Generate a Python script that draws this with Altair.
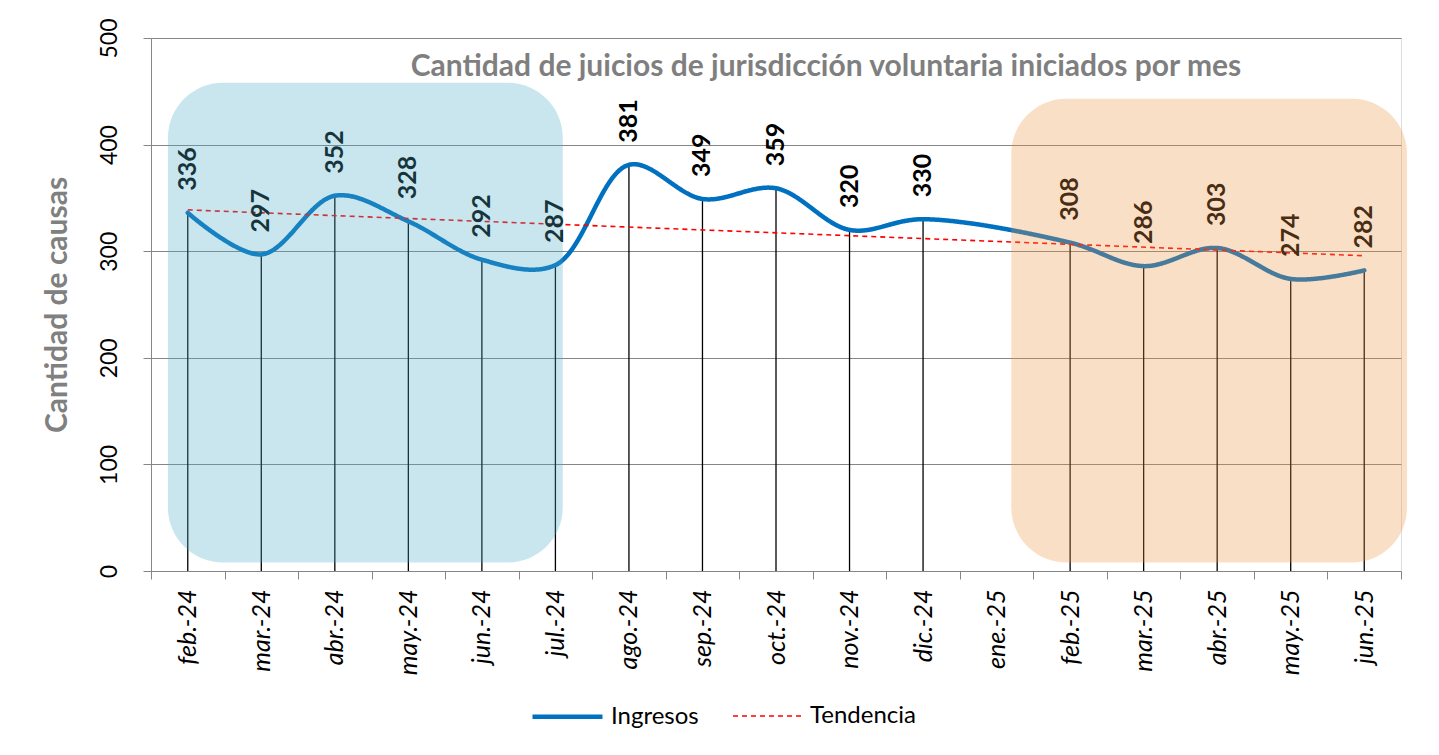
import altair as alt
import pandas as pd

meses = ["feb.-24", "mar.-24", "abr.-24", "may.-24", "jun.-24", "jul.-24",
         "ago.-24", "sep.-24", "oct.-24", "nov.-24", "dic.-24", "ene.-25",
         "feb.-25", "mar.-25", "abr.-25", "may.-25", "jun.-25"]
ingresos = [336, 297, 352, 328, 292, 287, 381, 349, 359, 320, 330, None,
            308, 286, 303, 274, 282]
series = ["Ingresos", "Tendencia"]

zona_azul = ["feb.-24", "jul.-24"]
zona_naranja = ["ene.-25", "jun.-25"]

FONT = "Lato"

df = pd.DataFrame({"mes": meses, "valor": ingresos})
df["serie"] = "Ingresos"

xscale = alt.Scale(type="band", domain=meses, paddingInner=0, paddingOuter=0)
yscale = alt.Scale(domain=[0, 500], nice=False)

xaxis = alt.Axis(title=None, labelAngle=270, labelAlign="right", labelBaseline="middle",
                 labelFontSize=25, labelFontStyle="italic", labelColor="#000000",
                 labelPadding=10, tickBand="extent", tickSize=8, tickColor="#868686",
                 domainColor="#868686", grid=False, labelFont=FONT)
yaxis = alt.Axis(title="Cantidad de causas", values=[0, 100, 200, 300, 400, 500],
                 labelAngle=270, labelAlign="center", labelBaseline="bottom",
                 labelFontSize=23, labelColor="#000000", labelPadding=22,
                 tickSize=8, tickColor="#868686", domainColor="#868686",
                 grid=True, gridColor="#868686", gridWidth=1,
                 titleFontSize=30, titleFontWeight="bold", titleColor="#808080",
                 titlePadding=26, labelFont=FONT, titleFont=FONT)


def X(f):
    return alt.X(f, type="nominal", scale=xscale, axis=xaxis)


def Y(f):
    return alt.Y(f, type="quantitative", scale=yscale, axis=yaxis)


leg = alt.Legend(title=None, orient="none", legendX=379, legendY=641, direction="horizontal",
                 symbolType="stroke", symbolSize=4900, labelFontSize=24, labelFont=FONT,
                 labelColor="#000000", labelOffset=6, columnPadding=30)
color = alt.Color("serie:N", scale=alt.Scale(domain=series, range=["#0070C0", "#FF0000"]), legend=leg)
dash = alt.StrokeDash("serie:N", scale=alt.Scale(domain=series, range=[[1, 0], [5, 4]]), legend=leg)
width = alt.StrokeWidth("serie:N", scale=alt.Scale(domain=series, range=[4.5, 1.6]), legend=leg)

base = alt.Chart(df)

drops = base.transform_filter("isValid(datum.valor)").mark_rule(color="#000000", strokeWidth=1.3).encode(
    x=X("mes"), y=Y("valor"), y2=alt.Y2(datum=0)
)

linea = base.transform_filter("isValid(datum.valor)").mark_line(
    interpolate="catmull-rom", strokeCap="round"
).encode(x=X("mes"), y=Y("valor"), color=color, strokeDash=dash, strokeWidth=width)

meses_expr = "[" + ",".join(f"'{m}'" for m in meses) + "]"
tendencia = base.transform_window(
    idx="row_number()"
).transform_calculate(
    idx="datum.idx - 1"
).transform_filter("isValid(datum.valor)").transform_regression(
    "idx", "valor", method="linear"
).transform_calculate(
    mes=meses_expr + "[round(datum.idx)]",
    serie="'Tendencia'"
).mark_line().encode(x=X("mes"), y=Y("valor"), color=color, strokeDash=dash, strokeWidth=width)

etiquetas = base.transform_filter("isValid(datum.valor)").mark_text(
    angle=270, align="left", baseline="middle", dx=22, fontSize=25, fontWeight="bold",
    font=FONT, color="#000000"
).encode(x=X("mes"), y=Y("valor"), text=alt.Text("valor:Q"))

azul = alt.Chart(pd.DataFrame({"desde": [zona_azul[0]], "hasta": [zona_azul[1]]})).mark_rect(
    color="#4BACC6", opacity=0.3, cornerRadius=55
).encode(
    x=alt.X("desde:N", scale=xscale, axis=xaxis, bandPosition=0.23),
    x2=alt.X2("hasta", bandPosition=0.6),
    y=alt.Y(datum=458, type="quantitative", scale=yscale, axis=yaxis),
    y2=alt.Y2(datum=8),
)

naranja = alt.Chart(pd.DataFrame({"desde": [zona_naranja[0]], "hasta": [zona_naranja[1]]})).mark_rect(
    color="#EE9444", opacity=0.3, cornerRadius=55, x2Offset=6
).encode(
    x=alt.X("desde:N", scale=xscale, axis=xaxis, bandPosition=0.7),
    x2=alt.X2("hasta", bandPosition=1),
    y=alt.Y(datum=443, type="quantitative", scale=yscale, axis=yaxis),
    y2=alt.Y2(datum=8),
)

chart = alt.layer(drops, linea, tendencia, etiquetas, azul, naranja).properties(
    width=1250, height=533,
    autosize=alt.AutoSizeParams(type="none"),
    padding={"left": 143, "top": 30, "right": 30, "bottom": 176},
    title=alt.TitleParams(
        "Cantidad de juicios de jurisdicción voluntaria iniciados por mes",
        anchor="middle", dx=50, offset=-64, fontSize=30, fontWeight="bold",
        color="#7F7F7F", font=FONT
    ),
).configure_view(stroke=None).configure(font=FONT)

chart.save("out.html", embed_options={"renderer": "svg", "actions": False})
